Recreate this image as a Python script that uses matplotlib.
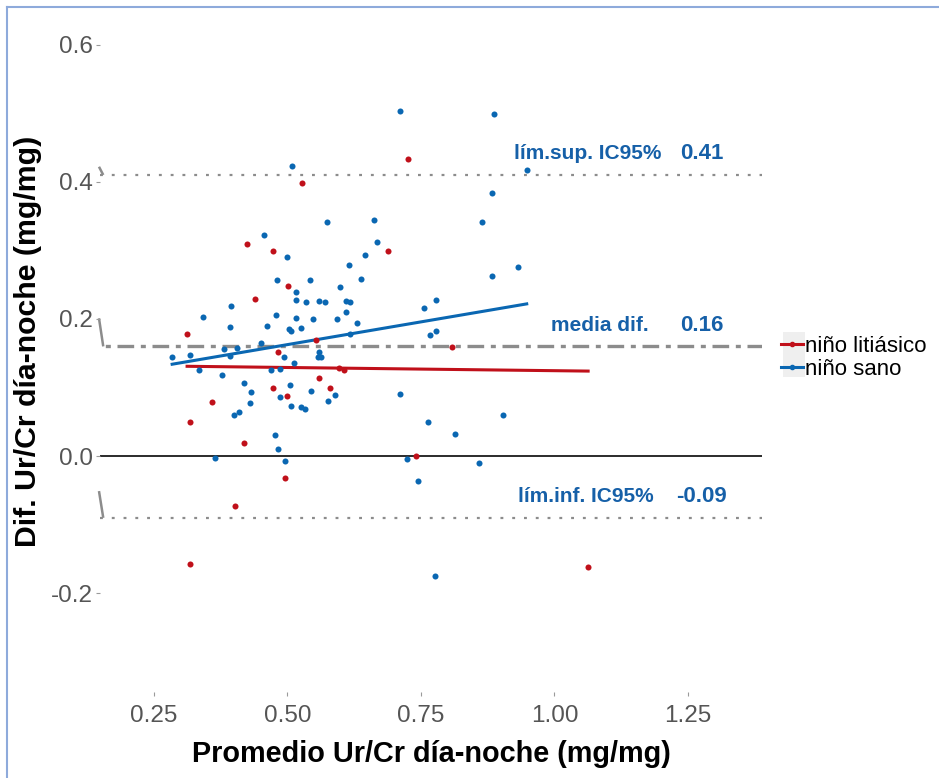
import matplotlib.pyplot as plt
from matplotlib.lines import Line2D
from matplotlib.patches import Rectangle

plt.rcParams['font.family'] = ['Liberation Sans', 'DejaVu Sans']
plt.rcParams['axes.unicode_minus'] = False

# niño litiásico: promedio (x) y diferencia día-noche (y)
lit_x = [0.726, 0.527, 0.424, 0.473, 0.688, 0.501, 0.439, 0.312, 0.482, 0.553,
         0.808, 0.596, 0.606, 0.559, 0.473, 0.580, 0.499, 0.359, 0.317, 0.419,
         0.741, 0.495, 0.402, 0.317, 1.063]
lit_y = [0.434, 0.399, 0.309, 0.299, 0.299, 0.248, 0.229, 0.178, 0.152, 0.169,
         0.159, 0.128, 0.125, 0.114, 0.099, 0.099, 0.088, 0.079, 0.050, 0.019,
         0.000, -0.032, -0.073, -0.157, -0.162]

# niño sano
sano_x = [0.711, 0.887, 0.508, 0.949, 0.883, 0.574, 0.864, 0.662, 0.668, 0.456,
          0.499, 0.645, 0.615, 0.932, 0.883, 0.480, 0.542, 0.638, 0.598, 0.516,
          0.778, 0.756, 0.394, 0.516, 0.535, 0.559, 0.570, 0.610, 0.617, 0.610,
          0.342, 0.479, 0.516, 0.548, 0.593, 0.630, 0.392, 0.462, 0.503, 0.507,
          0.525, 0.450, 0.617, 0.767, 0.778, 0.381, 0.405, 0.284, 0.317, 0.392,
          0.493, 0.559, 0.557, 0.563, 0.512, 0.334, 0.469, 0.486, 0.377, 0.419,
          0.505, 0.432, 0.544, 0.589, 0.486, 0.576, 0.711, 0.430, 0.507, 0.525,
          0.533, 0.409, 0.400, 0.904, 0.763, 0.477, 0.814, 0.482, 0.364, 0.495,
          0.724, 0.859, 0.744, 0.776]
sano_y = [0.503, 0.499, 0.423, 0.417, 0.383, 0.341, 0.341, 0.344, 0.312, 0.322,
          0.290, 0.293, 0.278, 0.276, 0.262, 0.257, 0.257, 0.258, 0.246, 0.239,
          0.227, 0.216, 0.219, 0.227, 0.225, 0.226, 0.225, 0.226, 0.225, 0.210,
          0.203, 0.206, 0.201, 0.200, 0.200, 0.194, 0.188, 0.190, 0.185, 0.182,
          0.187, 0.165, 0.178, 0.176, 0.182, 0.156, 0.157, 0.144, 0.147, 0.146,
          0.144, 0.152, 0.144, 0.144, 0.136, 0.125, 0.125, 0.127, 0.118, 0.106,
          0.104, 0.093, 0.095, 0.089, 0.086, 0.080, 0.090, 0.077, 0.073, 0.071,
          0.069, 0.064, 0.060, 0.060, 0.050, 0.031, 0.032, 0.010, -0.003, -0.007,
          -0.004, -0.010, -0.036, -0.175]

# rectas de ajuste por grupo (extremos)
lit_fit_x = [0.312, 1.063]
lit_fit_y = [0.131, 0.124]
sano_fit_x = [0.284, 0.948]
sano_fit_y = [0.134, 0.222]

# Bland-Altman: media y límites del IC95%
ref_names = ['lím.sup. IC95%', 'media dif.', 'lím.inf. IC95%']
ref_values = [0.41, 0.16, -0.09]
ref_labels = ['0.41', '0.16', '-0.09']

group_names = ['niño litiásico', 'niño sano']

x_ticks = [0.25, 0.50, 0.75, 1.00, 1.25]
y_ticks = [-0.2, 0.0, 0.2, 0.4, 0.6]

RED = '#c0101a'
BLUE = '#0a67b2'
TXT_BLUE = '#1660a8'
GREY = '#8c8c8c'

W, H = 939, 778
fig = plt.figure(figsize=(W / 100, H / 100), dpi=100)
ax = fig.add_axes([100 / W, 1 - 692 / H, 662 / W, 672 / H])
ax.set_xlim(0.1489, 1.3886)
ax.set_ylim(-0.344, 0.636)

for s in ax.spines.values():
    s.set_visible(False)

# líneas de referencia
ax.axhline(0, color='#1a1a1a', lw=1.3, zorder=1)
ax.axhline(ref_values[0], color=GREY, lw=1.6, ls=(0, (1.3, 4.0)), zorder=1)
ax.axhline(ref_values[1], color=GREY, lw=2.4, ls=(5.4, (5.0, 2.0, 1.5, 2.0)), zorder=1)
ax.axhline(ref_values[2], color=GREY, lw=1.6, ls=(0, (1.3, 4.0)), zorder=1)

# pequeños trazos en el borde izquierdo
for v, h in zip(ref_values, [0.012, 0.041, 0.039]):
    ax.plot([0.147, 0.155], [v + h, v], color=GREY, lw=1.8, clip_on=False,
            solid_capstyle='butt', zorder=1)

ax.scatter(sano_x, sano_y, s=19, color=BLUE, lw=0, zorder=3)
ax.scatter(lit_x, lit_y, s=19, color=RED, lw=0, zorder=3)
ax.plot(lit_fit_x, lit_fit_y, color=RED, lw=2.2, zorder=2)
ax.plot(sano_fit_x, sano_fit_y, color=BLUE, lw=2.2, zorder=2)

label_x = [1.063, 1.085, 1.059]
for name, v, lab, lx in zip(ref_names, ref_values, ref_labels, label_x):
    ax.text(lx, v + 0.023, name, ha='center', va='baseline', color=TXT_BLUE,
            fontsize=15, fontweight='bold')
    ax.text(1.276, v + 0.023, lab, ha='center', va='baseline', color=TXT_BLUE,
            fontsize=16, fontweight='bold')

ax.set_xticks(x_ticks)
ax.set_xticklabels([f'{t:.2f}' for t in x_ticks])
ax.set_yticks(y_ticks)
ax.set_yticklabels([f'{t:.1f}' for t in y_ticks])
ax.tick_params(axis='both', length=3, width=0.8, color='#9a9a9a',
               labelcolor='#555555', labelsize=17.5)
ax.tick_params(axis='x', pad=6)
ax.tick_params(axis='y', pad=2)

ax.set_xlabel('Promedio Ur/Cr día-noche (mg/mg)', fontsize=20.8,
              fontweight='bold', labelpad=10)
ax.set_ylabel('Dif. Ur/Cr día-noche (mg/mg)', fontsize=21.8,
              fontweight='bold')
ax.yaxis.set_label_coords(-0.088, 0.522)

# leyenda
handles = [Line2D([], [], color=c, lw=2.2, marker='o', markersize=3)
           for c in (RED, BLUE)]
fig.legend(handles, group_names, loc='upper left',
           bbox_to_anchor=(781 / W, 1 - 336 / H), bbox_transform=fig.transFigure,
           frameon=False, fontsize=16, handlelength=1.0, handletextpad=0.1,
           borderpad=0, borderaxespad=0, labelspacing=0.1)
fig.add_artist(Rectangle((783 / W, 1 - 377 / H), 22 / W, 45 / H,
                         transform=fig.transFigure, fc='#efefef', ec='none',
                         zorder=1))

# marco
fig.add_artist(Line2D([7 / W, 7 / W], [0, 1 - 7 / H], transform=fig.transFigure,
                      color='#8eaadb', lw=1.5))
fig.add_artist(Line2D([7 / W, 1], [1 - 7 / H, 1 - 7 / H],
                      transform=fig.transFigure, color='#8eaadb', lw=1.5))

fig.savefig('out.png', dpi=100)
